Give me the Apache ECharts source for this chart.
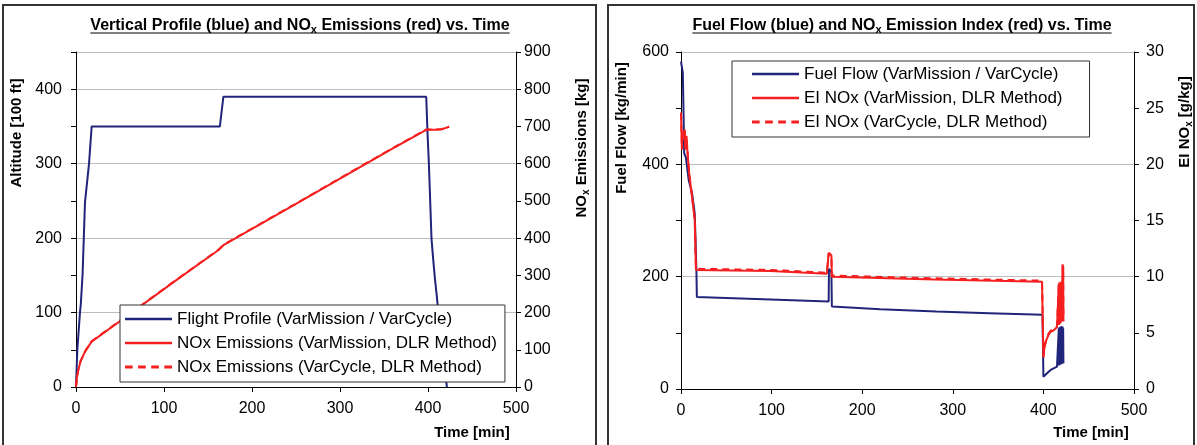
<!DOCTYPE html>
<html>
<head>
<meta charset="utf-8">
<script src="https://cdn.jsdelivr.net/npm/echarts@6/dist/echarts.min.js"></script>
<style>
  html, body { margin: 0; padding: 0; background: #fff; }
  #chart { width: 1197px; height: 445px; }
</style>
</head>
<body>
<div id="chart"></div>
<script>
// ---------- Left panel: vertical profile and cumulative NOx ----------
const profileTime = [0, 1.5, 4.5, 5.5, 7.5, 10.2, 14.8, 17.8, 163.5, 167.5, 398, 399.5, 401, 404, 406, 408, 410, 415, 421.5];
const profileAlt  = [0, 50, 100, 112, 152, 248, 300, 350, 350, 390, 390, 340, 300, 199, 170, 144, 122, 60, 0];

const noxMissionTime = [0, 1, 2.6, 5, 10.2, 17.8, 60, 114, 162, 167.5, 250, 357, 398, 408, 415.5, 417, 424];
const noxMissionKg   = [0, 25, 46, 68, 95, 122, 194, 287, 368, 381, 492, 637, 691, 691, 692, 697, 699];
const noxCycleTime   = [0, 1, 2.6, 5, 10.2, 17.8, 60, 114, 162, 167.5, 250, 357, 398, 408, 415.5, 417, 424];
const noxCycleKg     = [0, 25, 46, 68, 95, 123, 195, 288, 369, 382, 493, 638, 692, 692, 693, 698, 700];

// ---------- Right panel: fuel flow and NOx emission index ----------
const fuelTime = [0, 2, 2.7, 3.5, 5.4, 8.6, 12.3, 15.2, 17, 17.5, 98.7, 163, 163.3, 166, 166.5, 220, 282, 340, 399, 400, 404, 408, 415, 416.5,
  417, 417.3, 417.6, 417.9, 418.2, 418.5, 418.8, 419.1, 419.4, 419.7, 420.0, 420.3, 420.6, 420.9, 421.2, 421.5, 421.8, 422.1];
const fuelFlow = [583, 563, 503, 420, 412, 371, 348, 312, 212, 164, 159.5, 155.6, 214, 208, 147, 142, 138, 135, 132, 22, 28, 34, 40, 41,
  108, 42, 110, 43, 109, 43, 111, 44, 110, 44, 112, 45, 110, 45, 111, 46, 108, 46];

const eiMissionTime = [0, 1, 1.5, 2.5, 4, 5, 6, 7.5, 9, 12.6, 15.2, 16.5, 17.5, 98.7, 161, 163, 163.5, 166, 166.5, 168, 280, 398.5,
  400, 401, 403, 405.5, 408, 411, 415, 416.5,
  417, 417.3, 417.6, 417.9, 418.2, 418.5, 418.8, 419.1, 419.4, 419.7, 420.0, 420.3, 420.6, 420.9, 421.2, 421.5, 421.8, 422.1];
const eiMissionValue = [24.6, 21.3, 22.8, 22.2, 23.1, 21.3, 22.5, 20.7, 19.2, 16.8, 15.0, 10.6, 10.6, 10.5, 10.27, 12.1, 12.2, 11.9, 10.0, 9.95, 9.75, 9.55,
  2.8, 3.6, 4.3, 4.8, 5.1, 5.2, 5.5, 5.6,
  9.3, 5.7, 9.4, 5.8, 9.2, 5.8, 9.4, 5.9, 9.3, 6.0, 9.5, 6.0, 9.4, 6.1, 11.0, 6.2, 10.9, 6.0];
const eiCycleTime = eiMissionTime;
const eiCycleValue = [24.6, 21.4, 22.9, 22.3, 23.2, 21.4, 22.6, 20.8, 19.3, 16.9, 15.1, 10.7, 10.7, 10.6, 10.35, 12.1, 12.2, 11.9, 10.1, 10.05, 9.85, 9.65,
  2.9, 3.7, 4.4, 4.9, 5.2, 5.3, 5.6, 5.7,
  9.4, 5.8, 9.5, 5.9, 9.3, 5.9, 9.5, 6.0, 9.4, 6.1, 9.6, 6.1, 9.5, 6.2, 11.1, 6.3, 11.0, 6.1];

// ---------- Legend texts ----------
const leftLegend = [
  'Flight Profile (VarMission / VarCycle)',
  'NOx Emissions (VarMission, DLR Method)',
  'NOx Emissions (VarCycle, DLR Method)'
];
const rightLegend = [
  'Fuel Flow (VarMission / VarCycle)',
  'EI NOx (VarMission, DLR Method)',
  'EI NOx (VarCycle, DLR Method)'
];

const FONT = '"Liberation Sans", Arial, sans-serif';
const BLUE = '#20247a';
const RED = '#f51f1f';
const SOLID_ICON = 'path://M0,0H47V2.6H0Z';
const DASH_ICON = 'path://M0,0H7V2.6H0Z M12,0H19V2.6H12Z M24,0H31V2.6H24Z M36,0H43V2.6H36Z';

const pairs = (xs, ys) => xs.map((x, i) => [x, ys[i]]);

// measure a title made of main text + subscript, for its underline
const ctx = document.createElement('canvas').getContext('2d');
function textWidth(str, size) {
  ctx.font = 'bold ' + size + 'px ' + FONT;
  return ctx.measureText(str).width;
}
const TITLE_SIZE = 16, TITLE_SUB = 11;
function titleGraphics(cx, cy, before, after) {
  const w = textWidth(before, TITLE_SIZE) + textWidth('x', TITLE_SUB) + textWidth(after, TITLE_SIZE);
  return [
    {
      type: 'text', x: cx, y: cy, z: 50,
      style: {
        text: '{t|' + before + '}{s|x}{t|' + after + '}',
        align: 'center', verticalAlign: 'middle',
        rich: {
          t: { fontFamily: FONT, fontSize: TITLE_SIZE, fontWeight: 'bold', fill: '#000', lineHeight: 19 },
          s: { fontFamily: FONT, fontSize: TITLE_SUB, fontWeight: 'bold', fill: '#000', lineHeight: 19, verticalAlign: 'bottom' }
        }
      }
    },
    {
      type: 'line', z: 50,
      shape: { x1: cx - w / 2, y1: cy + 7.5, x2: cx + w / 2, y2: cy + 7.5 },
      style: { stroke: '#000', lineWidth: 1.2 }
    }
  ];
}
const AXIS_TITLE = 15, AXIS_SUB = 10;
function axisTitle(cx, cy, before, sub, after, rotate) {
  let text = '{t|' + before + '}';
  if (sub) text += '{s|' + sub + '}{t|' + after + '}';
  return {
    type: 'text', x: cx, y: cy, rotation: rotate ? Math.PI / 2 : 0, z: 50,
    style: {
      text: text, align: 'center', verticalAlign: 'middle',
      rich: {
        t: { fontFamily: FONT, fontSize: AXIS_TITLE, fontWeight: 'bold', fill: '#000', lineHeight: 18 },
        s: { fontFamily: FONT, fontSize: AXIS_SUB, fontWeight: 'bold', fill: '#000', lineHeight: 18, verticalAlign: 'bottom' }
      }
    }
  };
}

const axisLine = { show: true, lineStyle: { color: '#000', width: 1 } };
const axisTick = { show: true, inside: false, length: 5, lineStyle: { color: '#000', width: 1 } };
const labelStyle = { color: '#000', fontSize: 16, fontFamily: FONT };

function timeAxis(grid) {
  return {
    type: 'value', gridIndex: grid, min: 0, max: 500, interval: 100,
    axisLine, axisTick,
    axisLabel: Object.assign({ margin: 14 }, labelStyle),
    splitLine: { show: false }
  };
}
function valueAxis(grid, side, max, interval, labelEvery, margin) {
  return {
    type: 'value', gridIndex: grid, position: side, min: 0, max: max, interval: interval,
    axisLine, axisTick,
    axisLabel: Object.assign({
      margin: margin,
      formatter: v => (v % labelEvery === 0 ? String(v) : '')
    }, labelStyle),
    splitLine: { show: false }
  };
}
function gridHelperAxis(grid, max, interval) {
  return {
    type: 'value', gridIndex: grid, position: 'left', min: 0, max: max, interval: interval,
    axisLine: { show: false }, axisTick: { show: false }, axisLabel: { show: false },
    splitLine: { show: true, lineStyle: { color: '#bdbdbd', width: 1 } }
  };
}
function lineSeries(name, xi, yi, data, color, dashed, z) {
  return {
    name, type: 'line', xAxisIndex: xi, yAxisIndex: yi, data,
    symbol: 'none', showSymbol: false, z: z,
    lineStyle: { color, width: 2, type: dashed ? [7, 5] : 'solid' },
    itemStyle: { color },
    emphasis: { disabled: true }
  };
}
function legend(names, left, top, padding) {
  return {
    data: names.map((n, i) => ({ name: n, icon: i === 2 ? DASH_ICON : SOLID_ICON })),
    orient: 'vertical', left, top, padding,
    itemWidth: 47, itemHeight: 14, itemGap: 6,
    backgroundColor: '#fff', borderColor: '#333', borderWidth: 1, borderRadius: 0,
    textStyle: { color: '#000', fontSize: 17, fontFamily: FONT, lineHeight: 18 },
    selectedMode: false, z: 20
  };
}

const chart = echarts.init(document.getElementById('chart'), null, { renderer: 'canvas' });
chart.setOption({
  animation: false,
  backgroundColor: '#fff',
  grid: [
    { left: 76, top: 52, width: 440, height: 335 },
    { left: 681, top: 52, width: 453, height: 337 }
  ],
  xAxis: [timeAxis(0), timeAxis(1)],
  yAxis: [
    valueAxis(0, 'left', 450, 50, 100, 14),
    valueAxis(0, 'right', 900, 100, 100, 8),
    gridHelperAxis(0, 450, 100),
    valueAxis(1, 'left', 600, 100, 200, 12),
    valueAxis(1, 'right', 30, 5, 5, 12),
    gridHelperAxis(1, 600, 200)
  ],
  legend: [
    legend(leftLegend, 120, 305, [5, 8, 6, 5]),
    legend(rightLegend, 732, 61, [4, 27, 6, 20])
  ],
  series: [
    lineSeries(leftLegend[0], 0, 0, pairs(profileTime, profileAlt), BLUE, false, 3),
    lineSeries(leftLegend[1], 0, 1, pairs(noxMissionTime, noxMissionKg), RED, false, 4),
    lineSeries(leftLegend[2], 0, 1, pairs(noxCycleTime, noxCycleKg), RED, true, 5),
    lineSeries(rightLegend[0], 1, 3, pairs(fuelTime, fuelFlow), BLUE, false, 3),
    lineSeries(rightLegend[1], 1, 4, pairs(eiMissionTime, eiMissionValue), RED, false, 4),
    lineSeries(rightLegend[2], 1, 4, pairs(eiCycleTime, eiCycleValue), RED, true, 5)
  ],
  graphic: [
    // panel frames
    { type: 'rect', shape: { x: 3, y: 5, width: 593, height: 450 }, style: { fill: null, stroke: '#333', lineWidth: 2 }, z: 1 },
    { type: 'rect', shape: { x: 608, y: 5, width: 586, height: 450 }, style: { fill: null, stroke: '#333', lineWidth: 2 }, z: 1 },
    ...titleGraphics(300, 25.5, 'Vertical Profile (blue) and NO', ' Emissions (red) vs. Time'),
    ...titleGraphics(902, 25.5, 'Fuel Flow (blue) and NO', ' Emission Index (red) vs. Time'),
    axisTitle(17, 133, 'Altitude [100 ft]', '', '', true),
    axisTitle(582, 148, 'NO', 'x', ' Emissions [kg]', true),
    axisTitle(472, 433, 'Time [min]', '', '', false),
    axisTitle(622, 128, 'Fuel Flow [kg/min]', '', '', true),
    axisTitle(1185, 122, 'EI NO', 'x', ' [g/kg]', true),
    axisTitle(1091, 433, 'Time [min]', '', '', false)
  ]
});
</script>
</body>
</html>
